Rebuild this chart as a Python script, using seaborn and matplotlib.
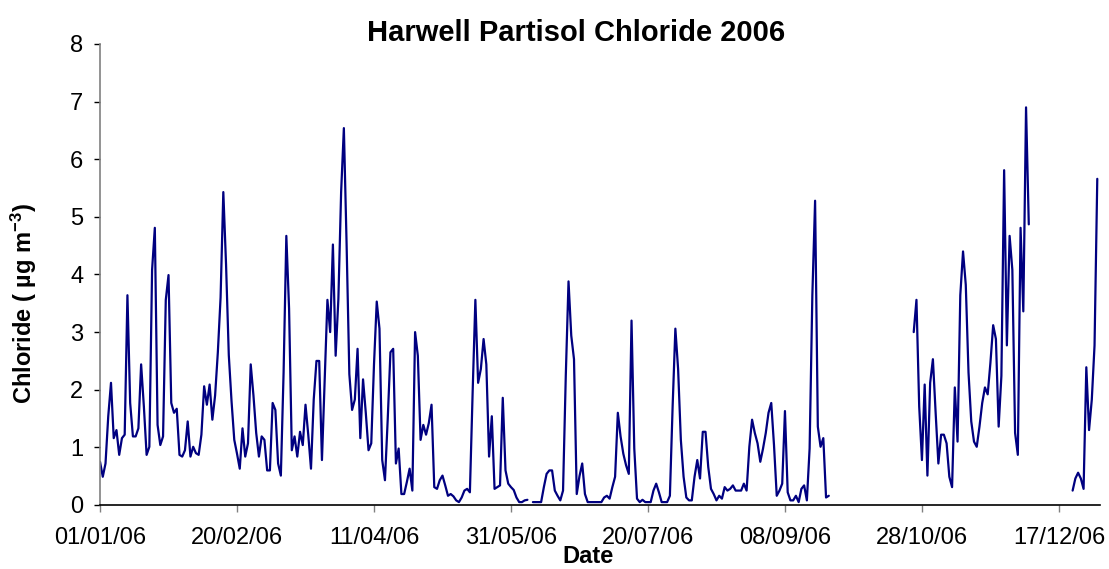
import numpy as np
import pandas as pd
import matplotlib
matplotlib.use("Agg")
import matplotlib.pyplot as plt
import matplotlib.dates as mdates
import seaborn as sns

# Daily chloride values (NaN = no data)
nan = np.nan
chloride = [
    # Jan - mid Feb (days 0-44)
    0.75, 0.49, 0.72, 1.54, 2.12, 1.16, 1.3, 0.87, 1.16, 1.22,
    3.64, 1.77, 1.19, 1.19, 1.33, 2.44, 1.71, 0.87, 1.01, 4.08,
    4.81, 1.39, 1.04, 1.19, 3.56, 3.99, 1.77, 1.6, 1.67, 0.87,
    0.84, 0.95, 1.45, 0.84, 1.01, 0.9, 0.87, 1.22, 2.06, 1.74,
    2.09, 1.48, 1.9, 2.65, 3.6,
    # days 45-90
    5.43, 4.17, 2.6, 1.8, 1.13, 0.89, 0.63, 1.33, 0.84, 1.07,
    2.44, 1.9, 1.25, 0.84, 1.19, 1.13, 0.6, 0.6, 1.77, 1.65,
    0.72, 0.51, 2.3, 4.67, 3.41, 0.95, 1.19, 0.84, 1.27, 1.04,
    1.74, 1.22, 0.63, 1.83, 2.5, 2.5, 0.78, 2.18, 3.56, 3.0,
    4.52, 2.59, 3.58, 5.43, 6.54, 4.52,
    # days 91-135
    2.27, 1.65, 1.83, 2.71, 1.16, 2.18, 1.6, 0.95, 1.07, 2.44,
    3.53, 3.06, 0.78, 0.43, 1.48, 2.65, 2.71, 0.72, 0.98, 0.19,
    0.19, 0.4, 0.63, 0.25, 3.0, 2.59, 1.13, 1.39, 1.22, 1.42,
    1.74, 0.31, 0.28, 0.43, 0.51, 0.34, 0.16, 0.19, 0.15, 0.08,
    0.05, 0.13, 0.25, 0.28, 0.22,
    # days 136-181
    1.95, 3.56, 2.12, 2.36, 2.88, 2.44, 0.84, 1.54, 0.28, 0.31,
    0.34, 1.86, 0.6, 0.37, 0.31, 0.26, 0.13, 0.05, 0.05, 0.08,
    0.09, nan, 0.05, 0.05, 0.05, 0.05, 0.31, 0.54, 0.6, 0.6,
    0.25, 0.16, 0.08, 0.25, 2.24, 3.88, 2.94, 2.53, 0.19, 0.5,
    0.72, 0.19, 0.05, 0.05, 0.05, 0.05,
    # days 182-226
    0.05, 0.05, 0.13, 0.16, 0.11, 0.31, 0.49, 1.6, 1.19, 0.89,
    0.69, 0.54, 3.2, 0.98, 0.11, 0.05, 0.09, 0.05, 0.05, 0.05,
    0.25, 0.37, 0.22, 0.05, 0.05, 0.05, 0.16, 1.71, 3.06, 2.36,
    1.13, 0.49, 0.13, 0.08, 0.08, 0.49, 0.78, 0.46, 1.27, 1.27,
    0.66, 0.28, 0.19, 0.08, 0.16,
    # days 227-266
    0.11, 0.31, 0.25, 0.28, 0.34, 0.25, 0.25, 0.25, 0.37, 0.25,
    1.01, 1.48, 1.25, 1.07, 0.75, 0.98, 1.25, 1.6, 1.77, 1.04,
    0.16, 0.25, 0.37, 1.63, 0.22, 0.08, 0.08, 0.16, 0.05, 0.28,
    0.34, 0.08, 0.98, 3.64, 5.28, 1.36, 1.01, 1.16, 0.13, 0.16,
    # days 267-296 missing
    nan, nan, nan, nan, nan, nan, nan, nan, nan, nan,
    nan, nan, nan, nan, nan, nan, nan, nan, nan, nan,
    nan, nan, nan, nan, nan, nan, nan, nan, nan, nan,
    # days 297-339
    3.0, 3.56, 1.71, 0.78, 2.09, 0.51, 2.12, 2.53, 1.6, 0.72,
    1.22, 1.22, 1.07, 0.49, 0.31, 2.04, 1.1, 3.64, 4.4, 3.82,
    2.3, 1.45, 1.1, 1.01, 1.36, 1.77, 2.04, 1.92, 2.47, 3.12,
    2.88, 1.36, 2.24, 5.81, 2.77, 4.67, 4.08, 1.25, 0.87, 4.81,
    3.36, 6.9, 4.87,
    # days 340-354 missing
    nan, nan, nan, nan, nan, nan, nan, nan, nan, nan,
    nan, nan, nan, nan, nan,
    # days 355-364
    0.25, 0.46, 0.56, 0.46, 0.28, 2.39, 1.3, 1.83, 2.77, 5.66,
]

dates = pd.date_range("2006-01-01", periods=len(chloride), freq="D")
tick_dates = ["2006-01-01", "2006-02-20", "2006-04-11", "2006-05-31",
              "2006-07-20", "2006-09-08", "2006-10-28", "2006-12-17"]
y_ticks = [0, 1, 2, 3, 4, 5, 6, 7, 8]

df = pd.DataFrame({"date": dates, "chloride": chloride})
# separate runs of data so gaps stay open
df["segment"] = df["chloride"].isna().cumsum()
df = df.dropna()

sns.set_theme(style="white")
plt.rcParams["font.family"] = ["Liberation Sans", "DejaVu Sans"]
plt.rcParams["mathtext.default"] = "regular"
plt.rcParams["text.color"] = "black"
plt.rcParams["axes.labelcolor"] = "black"

fig = plt.figure(figsize=(11.09, 5.69), dpi=100)
ax = fig.add_axes([0.0902, 0.1125, 0.9017, 0.8102])

sns.lineplot(data=df, x="date", y="chloride", units="segment", estimator=None,
             color="#000080", linewidth=1.6, ax=ax)

ax.set_xlim(pd.Timestamp("2006-01-01"), pd.Timestamp("2007-01-01"))
ax.set_ylim(0, 8)
ax.set_yticks(y_ticks)
ax.set_xticks(pd.to_datetime(tick_dates))
ax.xaxis.set_major_formatter(mdates.DateFormatter("%d/%m/%y"))

for s in ["top", "right"]:
    ax.spines[s].set_visible(False)
ax.spines["left"].set_color("#808080")
ax.spines["bottom"].set_color("black")
ax.spines["left"].set_linewidth(1.2)
ax.spines["bottom"].set_linewidth(1.2)
ax.tick_params(axis="y", left=True, length=4, width=1, color="black",
               pad=8, labelsize=17, labelcolor="black")
ax.tick_params(axis="x", bottom=True, length=5, width=1, color="#808080",
               pad=11, labelsize=17, labelcolor="black")

ax.set_xlabel("")
ax.set_ylabel("")
fig.text(0.022, 0.467, "Chloride ( µg m$^{-3}$)", rotation=90, ha="center",
         va="center", fontsize=17, fontweight="bold", color="black")
fig.text(0.53, 0.022, "Date", ha="center", va="center", fontsize=17,
         fontweight="bold", color="black")
fig.text(0.519, 0.942, "Harwell Partisol Chloride 2006", ha="center",
         va="center", fontsize=21, fontweight="bold", color="black")

fig.savefig("out.png", dpi=100)
